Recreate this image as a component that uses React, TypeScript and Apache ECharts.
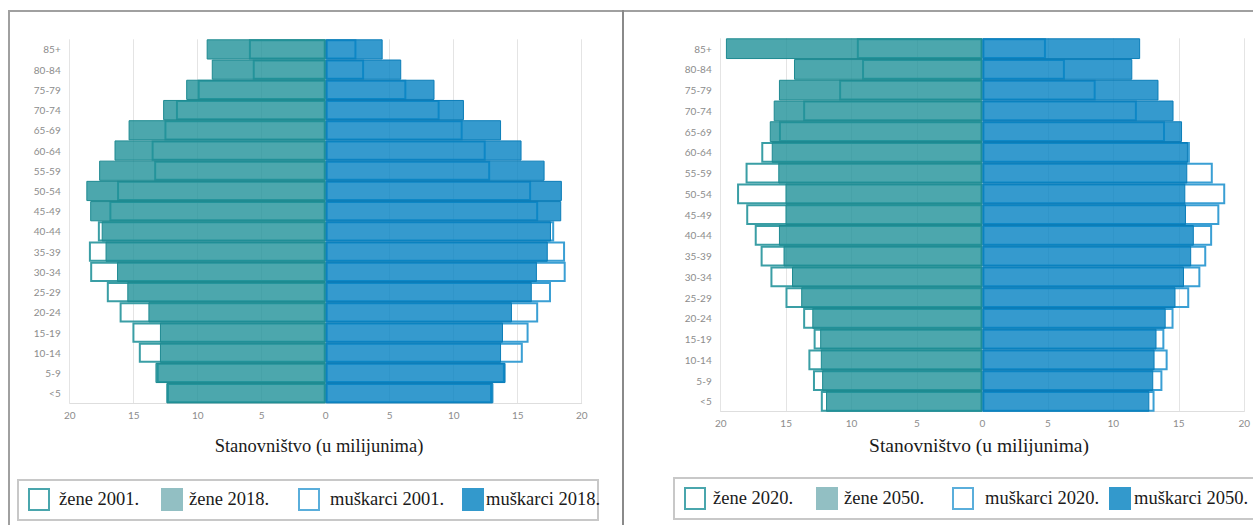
import React, { useEffect, useRef } from "react";
import * as echarts from "echarts";

const ageGroups = ["85+", "80-84", "75-79", "70-74", "65-69", "60-64", "55-59", "50-54", "45-49", "40-44", "35-39", "30-34", "25-29", "20-24", "15-19", "10-14", "5-9", "<5"];
const xTicks = [-20, -15, -10, -5, 0, 5, 10, 15, 20];

// Left chart (2001 vs 2018), millions
const women2001 = [6.0, 5.7, 10.0, 11.7, 12.6, 13.6, 13.4, 16.3, 16.9, 17.8, 18.5, 18.4, 17.1, 16.1, 15.1, 14.6, 13.2, 12.4];
const women2018 = [9.3, 8.9, 10.9, 12.7, 15.4, 16.5, 17.7, 18.7, 18.4, 17.5, 17.2, 16.3, 15.5, 13.85, 12.95, 12.95, 13.3, 12.45];
const men2001 = [2.4, 3.0, 6.3, 8.9, 10.7, 12.5, 12.85, 16.05, 16.6, 17.85, 18.7, 18.75, 17.6, 16.6, 15.85, 15.4, 14.0, 13.0];
const men2018 = [4.45, 5.9, 8.5, 10.8, 13.7, 15.3, 17.1, 18.45, 18.4, 17.6, 17.35, 16.5, 16.1, 14.55, 13.85, 13.7, 14.05, 13.1];

// Right chart (2020 vs 2050), millions
const women2020 = [9.6, 9.2, 10.95, 13.7, 15.55, 16.9, 18.1, 18.75, 18.05, 17.4, 16.95, 16.2, 15.05, 13.7, 12.9, 13.3, 12.95, 12.35];
const women2050 = [19.6, 14.4, 15.55, 15.95, 16.25, 16.1, 15.6, 15.05, 15.05, 15.55, 15.2, 14.55, 13.85, 13.0, 12.4, 12.35, 12.25, 11.95];
const men2020 = [4.85, 6.3, 8.65, 11.8, 13.95, 15.85, 17.6, 18.55, 18.1, 17.55, 17.1, 16.65, 15.8, 14.6, 13.9, 14.15, 13.75, 13.15];
const men2050 = [12.05, 11.45, 13.45, 14.6, 15.25, 15.7, 15.65, 15.5, 15.55, 16.15, 15.95, 15.4, 14.75, 14.0, 13.3, 13.15, 13.05, 12.75];

const axisTitle = "Stanovništvo (u milijunima)";
const legendLeft = ["žene 2001.", "žene 2018.", "muškarci 2001.", "muškarci 2018."];
const legendRight = ["žene 2020.", "žene 2050.", "muškarci 2020.", "muškarci 2050."];

const TEAL_FILL = "rgba(31,145,153,0.8)";
const TEAL_BORDER = "#1e8a91";
const TEAL_OUTLINE = "#3a9ea5";
const BLUE_FILL = "rgba(3,129,194,0.8)";
const BLUE_BORDER = "#0b7db8";
const BLUE_OUTLINE = "#3a9fd4";
const SERIF = "Liberation Serif";

function outlineSeries(name: string, data: number[], idx: number, color: string, neg: boolean) {
  return {
    name,
    type: "bar",
    xAxisIndex: idx,
    yAxisIndex: idx,
    data: data.map((v) => (neg ? -v : v)),
    barGap: "-100%",
    barCategoryGap: "0%",
    itemStyle: { color: "rgba(255,255,255,0)", borderColor: color, borderWidth: 2 },
    silent: true,
  };
}

function filledSeries(name: string, data: number[], idx: number, fill: string, border: string, neg: boolean) {
  return {
    name,
    type: "bar",
    xAxisIndex: idx,
    yAxisIndex: idx,
    data: data.map((v) => (neg ? -v : v)),
    barGap: "-100%",
    barCategoryGap: "0%",
    itemStyle: { color: fill, borderColor: border, borderWidth: 1 },
    silent: true,
  };
}

function legendItems(names: string[], swatchX: number[], textX: number[], cy: number, fontSize: number) {
  const styles = [
    { fill: "#ffffff", stroke: "#4aa6ad" },
    { fill: "#92bfc3", stroke: "#92bfc3" },
    { fill: "#ffffff", stroke: "#5aaedb" },
    { fill: "#3399cc", stroke: "#3399cc" },
  ];
  const els: any[] = [];
  names.forEach((n, i) => {
    els.push({
      type: "rect",
      shape: { x: swatchX[i], y: cy - 10, width: 20, height: 21 },
      style: { fill: styles[i].fill, stroke: styles[i].stroke, lineWidth: 2 },
      silent: true,
    });
    els.push({
      type: "text",
      x: textX[i],
      y: cy,
      style: {
        text: n,
        fill: "#1a1a1a",
        fontSize,
        fontFamily: SERIF,
        textAlign: "left",
        textVerticalAlign: "middle",
        verticalAlign: "middle",
      },
      silent: true,
    });
  });
  return els;
}

function valueAxis(idx: number, margin: number) {
  return {
    gridIndex: idx,
    type: "value",
    min: xTicks[0],
    max: xTicks[xTicks.length - 1],
    interval: 5,
    axisLabel: {
      formatter: (v: number) => String(Math.abs(v)),
      color: "#8c8c8c",
      fontSize: 10,
      fontFamily: "Lato",
      margin,
    },
    splitLine: { show: true, lineStyle: { color: "#e4e4e4", width: 1 } },
    axisLine: { show: true, lineStyle: { color: "#dedede", width: 1 } },
    axisTick: { show: false },
  };
}

function catAxis(idx: number) {
  return {
    gridIndex: idx,
    type: "category",
    data: ageGroups,
    inverse: true,
    axisLine: { show: false },
    axisTick: { show: false },
    axisLabel: { color: "#8c8c8c", fontSize: 10, fontFamily: "Lato", margin: 9 },
  };
}

function titleText(x: number, y: number, size: number) {
  return {
    type: "text",
    x,
    y,
    style: {
      text: axisTitle,
      fill: "#1a1a1a",
      fontSize: size,
      fontFamily: SERIF,
      textAlign: "center",
      textVerticalAlign: "middle",
      verticalAlign: "middle",
    },
    silent: true,
  };
}

export default function App() {
  const ref = useRef<HTMLDivElement>(null);
  useEffect(() => {
    if (!ref.current) return;
    const chart = echarts.init(ref.current, undefined, { renderer: "svg" });
    const option: any = {
      animation: false,
      backgroundColor: "#ffffff",
      grid: [
        { left: 69.7, top: 39.3, width: 512, height: 364 },
        { left: 720.7, top: 38.3, width: 527.6, height: 373.4 },
      ],
      xAxis: [valueAxis(0, 7), valueAxis(1, 6)],
      yAxis: [catAxis(0), catAxis(1)],
      series: [
        outlineSeries(legendLeft[0], women2001, 0, TEAL_OUTLINE, true),
        outlineSeries(legendLeft[2], men2001, 0, BLUE_OUTLINE, false),
        filledSeries(legendLeft[1], women2018, 0, TEAL_FILL, TEAL_BORDER, true),
        filledSeries(legendLeft[3], men2018, 0, BLUE_FILL, BLUE_BORDER, false),
        outlineSeries(legendRight[0], women2020, 1, TEAL_OUTLINE, true),
        outlineSeries(legendRight[2], men2020, 1, BLUE_OUTLINE, false),
        filledSeries(legendRight[1], women2050, 1, TEAL_FILL, TEAL_BORDER, true),
        filledSeries(legendRight[3], men2050, 1, BLUE_FILL, BLUE_BORDER, false),
      ],
      graphic: [
        // frame
        { type: "line", shape: { x1: 8, y1: 11, x2: 1253, y2: 11 }, style: { stroke: "#a0a0a0", lineWidth: 2 }, silent: true },
        { type: "line", shape: { x1: 9, y1: 10, x2: 9, y2: 525 }, style: { stroke: "#a0a0a0", lineWidth: 2 }, silent: true },
        { type: "line", shape: { x1: 623, y1: 10, x2: 623, y2: 525 }, style: { stroke: "#8a8a8a", lineWidth: 2 }, silent: true },
        // axis titles
        titleText(319, 446, 18.5),
        titleText(979, 445, 19.5),
        // legend boxes
        { type: "rect", shape: { x: 18, y: 480, width: 580, height: 40 }, style: { fill: "none", stroke: "#c8c8c8", lineWidth: 2 }, silent: true },
        { type: "rect", shape: { x: 674, y: 478, width: 600, height: 41 }, style: { fill: "none", stroke: "#c8c8c8", lineWidth: 2 }, silent: true },
        ...legendItems(legendLeft, [29, 162, 299, 463], [59, 189, 330, 486], 499, 18.5),
        ...legendItems(legendRight, [685, 817, 953, 1110], [713, 844, 985, 1134], 498, 18.5),
      ],
    };
    chart.setOption(option);
    return () => chart.dispose();
  }, []);
  return (
    <div
      ref={ref}
      style={{ position: "fixed", left: 0, top: 0, width: 1253, height: 525, background: "#fff" }}
    />
  );
}
